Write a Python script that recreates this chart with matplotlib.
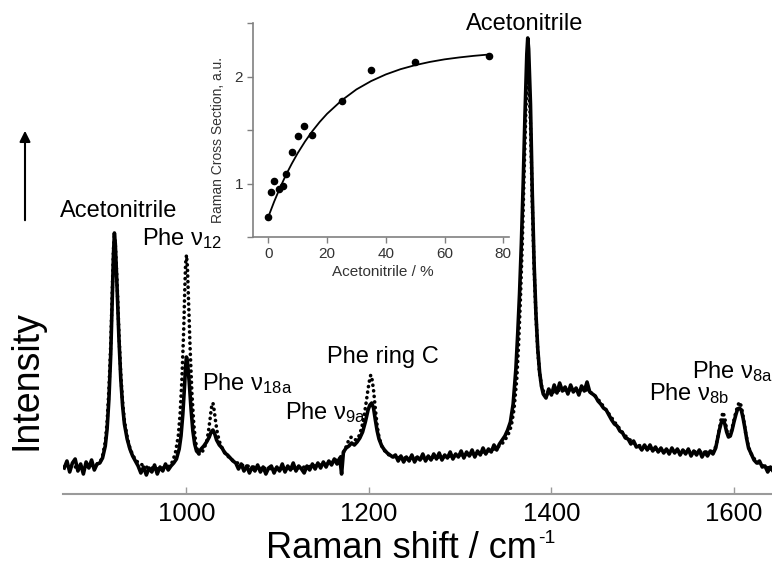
import matplotlib
matplotlib.use("Agg")
import matplotlib.pyplot as plt
from matplotlib.patches import FancyArrowPatch

plt.rcParams["font.family"] = ["Liberation Sans", "DejaVu Sans"]
plt.rcParams["mathtext.fontset"] = "custom"
plt.rcParams["mathtext.rm"] = "Liberation Sans"
plt.rcParams["mathtext.it"] = "Liberation Sans:italic"
plt.rcParams["mathtext.default"] = "regular"

# Raman spectrum, solid trace (arbitrary units)
shift_solid = [
    866, 869, 872, 875, 878, 881, 884, 887, 890, 893, 896, 899, 902, 905,
    908, 911, 913, 915, 917, 919, 920, 921, 922, 924, 926, 928, 930, 932, 935, 938, 941, 944,
    947, 950, 953, 956, 959, 962, 965, 968, 971, 974, 977, 980, 983,
    986, 989, 992, 994, 996, 998, 999, 1000, 1001, 1003, 1005, 1007, 1009, 1011, 1013,
    1016, 1019, 1022, 1025, 1027, 1029, 1031, 1033, 1036, 1039, 1042, 1045, 1048, 1051,
    1054, 1057, 1060, 1063, 1066, 1069, 1072, 1075, 1078, 1081,
    1084, 1087, 1090, 1093, 1096, 1099, 1102, 1105, 1108, 1111,
    1114, 1117, 1120, 1123, 1126, 1129, 1132, 1135, 1138, 1141,
    1144, 1147, 1150, 1153, 1156, 1159, 1162, 1165, 1168,
    1170, 1172,
    1175, 1178, 1181, 1184, 1187, 1190, 1193, 1196, 1199, 1201,
    1203, 1205, 1207, 1209, 1211, 1214, 1217, 1220, 1223, 1226,
    1229, 1232, 1235, 1238, 1241, 1244, 1247, 1250, 1253, 1256,
    1259, 1262, 1265, 1268, 1271, 1274, 1277, 1280, 1283, 1286,
    1289, 1292, 1295, 1298, 1301, 1304, 1307, 1310, 1313, 1316,
    1319, 1322, 1325, 1328, 1331, 1334, 1337, 1340, 1343, 1346,
    1349, 1352, 1355,
    1358, 1361, 1363, 1365, 1367, 1369, 1371, 1373, 1374, 1375,
    1377, 1379, 1381, 1383, 1385, 1387, 1389, 1391,
    1394, 1397, 1400, 1403, 1406, 1409, 1412, 1415, 1418, 1421,
    1424, 1427, 1430, 1433, 1436, 1439, 1442, 1445, 1448, 1451,
    1454, 1457, 1460, 1463, 1466, 1469, 1472, 1475, 1478, 1481,
    1484, 1487, 1490, 1493, 1496, 1499, 1502, 1505, 1508, 1511,
    1514, 1517, 1520, 1523, 1526, 1529, 1532, 1535, 1538, 1541,
    1544, 1547, 1550, 1553, 1556, 1559, 1562, 1565, 1568, 1571,
    1574, 1577,
    1580, 1582, 1584, 1586, 1588, 1590, 1592, 1594, 1596, 1598,
    1600, 1602, 1604, 1606, 1608, 1610, 1612, 1614, 1616,
    1619, 1622, 1625, 1628, 1631, 1634, 1637, 1640, 1642,
]
int_solid = [
    26, 33, 22, 31, 35, 23, 30, 20, 32, 26, 34, 24, 30, 31,
    36, 48, 65, 95, 140, 205, 240, 261, 250, 205, 155, 115, 88, 70, 55, 45, 38, 33,
    28, 21, 27, 19, 26, 22, 29, 20, 27, 23, 30, 24, 28,
    31, 35, 45, 58, 80, 110, 128, 137, 133, 112, 85, 63, 50, 43, 41,
    45, 48, 52, 57, 62, 64, 60, 54, 49, 46, 41, 39, 36, 33,
    31, 25, 30, 23, 28, 21, 27, 23, 29, 22,
    27, 20, 26, 28, 21, 27, 23, 30, 22, 28,
    24, 31, 23, 28, 25, 21, 28, 24, 30, 25,
    31, 26, 32, 27, 33, 29, 35, 30, 36,
    20, 42,
    46, 48, 51, 49, 52, 56, 62, 72, 84, 89,
    91, 86, 74, 63, 55, 48, 44, 41, 39, 37,
    39, 33, 38, 32, 37, 33, 39, 32, 37, 34,
    40, 33, 38, 34, 40, 35, 41, 34, 39, 36,
    42, 35, 40, 37, 43, 36, 42, 38, 44, 37,
    43, 39, 46, 40, 45, 42, 49, 44, 50, 54,
    58, 64, 72,
    90, 125, 160, 200, 250, 310, 380, 440, 456, 445,
    390, 300, 230, 180, 145, 122, 108, 100,
    96, 105, 99, 109, 101, 111, 103, 107, 100, 109,
    102, 106, 99, 108, 103, 112, 102, 100, 98, 93,
    90, 86, 84, 79, 74, 70, 68, 63, 61, 56,
    55, 50, 53, 47, 48, 44, 49, 44, 49, 43,
    47, 42, 46, 41, 45, 40, 46, 41, 45, 39,
    44, 40, 45, 38, 43, 39, 44, 37, 42, 38,
    43, 40,
    46, 55, 64, 71, 74, 70, 62, 57, 58, 64,
    72, 79, 85, 86, 84, 76, 66, 55, 46,
    40, 34, 31, 33, 27, 28, 22, 27, 24,
]

# dotted trace
shift_dot = [
    866, 880, 895, 905, 908, 911, 913, 915, 917, 919,
    920, 921, 922, 924, 926, 928, 930, 932, 935, 938,
    941, 945, 955, 970, 982,
    985, 988, 991, 993, 995, 997, 998, 999, 1000, 1001,
    1002, 1004, 1006, 1008, 1010, 1013,
    1016, 1019, 1022, 1024, 1026, 1027, 1028, 1029, 1030, 1032,
    1034, 1037, 1040, 1045, 1050,
    1060, 1080, 1100, 1120, 1140, 1155, 1165,
    1170, 1174, 1177, 1179, 1181, 1183, 1186, 1189, 1192, 1195,
    1197, 1199, 1201, 1202, 1203, 1205, 1207, 1209, 1211, 1214,
    1218, 1222, 1228,
    1240, 1260, 1280, 1300, 1320, 1335, 1345,
    1352, 1356, 1359, 1362, 1364, 1366, 1368, 1370, 1372, 1374,
    1375, 1377, 1379, 1381, 1383, 1385, 1387, 1390,
    1395, 1410, 1425, 1440, 1450, 1460, 1470, 1480, 1490, 1500,
    1520, 1540, 1560, 1575,
    1580, 1583, 1586, 1588, 1590, 1592, 1594, 1596, 1598, 1601,
    1604, 1606, 1608, 1610, 1613, 1616, 1620, 1625, 1632, 1642,
]
int_dot = [
    27, 27, 28, 31, 38, 52, 72, 105, 150, 215,
    245, 258, 250, 210, 160, 120, 92, 73, 57, 46,
    39, 33, 27, 25, 28,
    33, 42, 58, 80, 115, 165, 200, 230, 239, 228,
    200, 145, 100, 70, 52, 40,
    40, 45, 52, 62, 76, 84, 90, 91, 86, 72,
    60, 50, 44, 38, 34,
    29, 26, 25, 26, 28, 30, 34,
    38, 45, 52, 56, 57, 55, 54, 58, 66, 80,
    92, 105, 116, 119, 117, 104, 85, 68, 57, 48,
    42, 39, 37,
    36, 36, 37, 39, 41, 44, 49,
    58, 68, 85, 115, 150, 195, 250, 320, 385, 425,
    420, 370, 290, 225, 178, 143, 120, 104,
    100, 104, 104, 104, 96, 84, 71, 59, 51, 47,
    44, 43, 42, 42,
    47, 60, 75, 82, 76, 64, 58, 59, 66, 78,
    88, 92, 88, 78, 60, 47, 38, 32, 28, 25,
]

# inset: cross section vs acetonitrile content
acn_pct = [0, 1, 2, 3.5, 5, 6, 8, 10, 12, 15, 25, 35, 50, 75]
cross_section = [0.69, 0.92, 1.03, 0.95, 0.98, 1.09, 1.30, 1.45, 1.54, 1.46, 1.77, 2.06, 2.14, 2.19]
fit_pct = [0, 2, 4, 6, 8, 10, 12.5, 15, 17.5, 20, 25, 30, 35, 40, 45, 50, 55, 60, 65, 70, 75]
fit_cs = [0.69, 0.833, 0.963, 1.082, 1.188, 1.286, 1.395, 1.492, 1.578, 1.654, 1.78,
          1.882, 1.960, 2.022, 2.071, 2.109, 2.139, 2.163, 2.181, 2.196, 2.208]

fig = plt.figure(figsize=(7.72, 5.67), dpi=100)
ax = fig.add_axes([63.3 / 772, 73 / 567, (772 - 63.3) / 772, 474 / 567])
ax.plot(shift_solid, int_solid, color="black", lw=2.6, solid_joinstyle="round")
ax.plot(shift_dot, int_dot, color="black", lw=2.6, linestyle=(0, (0.05, 1.5)),
        dash_capstyle="round")
ax.set_xlim(865, 1641.7)
ax.set_ylim(0, 474)
for s in ["top", "right", "left"]:
    ax.spines[s].set_visible(False)
ax.spines["bottom"].set_color("#9a9a9a")
ax.spines["bottom"].set_linewidth(1.5)
ax.set_yticks([])
ax.set_xticks([1000, 1200, 1400, 1600])
ax.tick_params(axis="x", direction="in", length=5, width=1, color="#9a9a9a",
               labelsize=18.5, pad=6)

# peak labels
lab = dict(fontsize=17, ha="left", va="baseline", clip_on=False)
ax.text(861.5, 277, "Acetonitrile", **lab)
ax.text(951, 249, "Phe ν$_{12}$", **lab)
ax.text(1016.7, 104, "Phe ν$_{18a}$", **lab)
ax.text(1108, 75, "Phe ν$_{9a}$", **lab)
ax.text(1153.7, 131, "Phe ring C", **lab)
ax.text(1306, 464, "Acetonitrile", **lab)
ax.text(1507, 94, "Phe ν$_{8b}$", **lab)
ax.text(1553.6, 116, "Phe ν$_{8a}$", **lab)

# axis titles
fig.text(266 / 772, 1 - 558 / 567, "Raman shift / cm", ha="left", va="baseline",
         fontsize=26)
fig.text(538 / 772, 1 - 543 / 567, "-1", ha="left", va="baseline", fontsize=14)
fig.text(27 / 772, 1 - 380 / 567, "Intensity", rotation=90, ha="center", va="center",
         fontsize=27)
fig.add_artist(FancyArrowPatch((25 / 772, 1 - 223 / 567), (25 / 772, 1 - 128 / 567),
                               transform=fig.transFigure, arrowstyle="-|>",
                               mutation_scale=16, lw=1.5, color="black"))

# inset
ins = fig.add_axes([252.7 / 772, 1 - 237.3 / 567, 255.9 / 772, 214 / 567])
ins.patch.set_alpha(0)
ins.plot(fit_pct, fit_cs, color="black", lw=1.3)
ins.scatter(acn_pct, cross_section, s=20, color="black", zorder=3)
ins.set_xlim(-5.3, 81.8)
ins.set_ylim(0.5, 2.5)
for s in ["top", "right"]:
    ins.spines[s].set_visible(False)
for s in ["left", "bottom"]:
    ins.spines[s].set_color("#808080")
    ins.spines[s].set_linewidth(1.2)
ins.set_xticks([0, 20, 40, 60, 80])
ins.set_yticks([0.5, 1, 1.5, 2, 2.5])
ins.set_yticklabels(["", "1", "", "2", ""])
ins.tick_params(direction="out", length=4, width=1, color="#808080",
                labelsize=11, labelcolor="#333333", pad=3)
fig.text(383 / 772, 1 - 272 / 567, "Acetonitrile / %", ha="center", va="center",
         fontsize=11, color="#333333")
fig.text(218 / 772, 1 - 140 / 567, "Raman Cross Section, a.u.", rotation=90,
         ha="center", va="center", fontsize=10, color="#333333")

fig.savefig("out.png", dpi=100)
